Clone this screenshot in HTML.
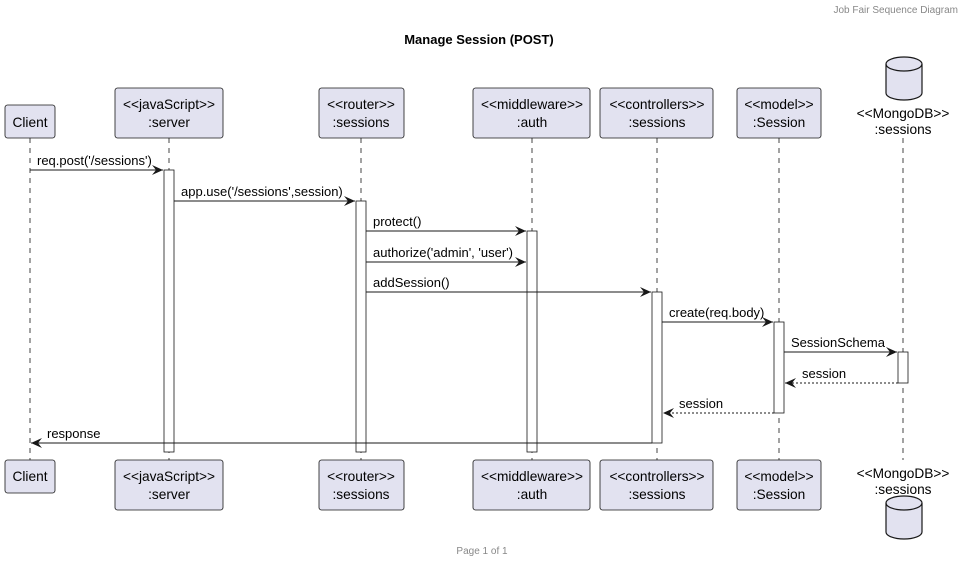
<!DOCTYPE html>
<html><head><meta charset="utf-8"><style>
html,body{margin:0;padding:0;background:#fff;}
svg{display:block;font-family:"Liberation Sans",sans-serif;}
</style></head><body>
<svg width="964" height="562" viewBox="0 0 964 562" xmlns="http://www.w3.org/2000/svg">
<defs>
<marker id="a" markerWidth="12" markerHeight="10" refX="11" refY="5" orient="auto" markerUnits="userSpaceOnUse"><path d="M0,0 L11,5 L0,10 L4,5 Z" fill="#181818"/></marker>
<marker id="o" markerWidth="12" markerHeight="10" refX="11" refY="5" orient="auto" markerUnits="userSpaceOnUse"><path d="M0,0 L11,5 L0,10 L4,5 Z" fill="#181818"/></marker>
</defs>
<text x="958" y="13" font-size="10" fill="#888" text-anchor="end">Job Fair Sequence Diagram</text>
<text x="479" y="44" font-size="13" font-weight="bold" text-anchor="middle" fill="#000">Manage Session (POST)</text>
<text x="482" y="554" font-size="10" fill="#888" text-anchor="middle">Page 1 of 1</text>
<g stroke="#181818" stroke-width="0.8" stroke-dasharray="5,5">
<line x1="30" y1="138" x2="30" y2="460"/>
<line x1="169" y1="138" x2="169" y2="460"/>
<line x1="361" y1="138" x2="361" y2="460"/>
<line x1="532" y1="138" x2="532" y2="460"/>
<line x1="657" y1="138" x2="657" y2="460"/>
<line x1="779" y1="138" x2="779" y2="460"/>
<line x1="903" y1="138" x2="903" y2="460"/>
</g>
<g fill="#e2e2f0" stroke="#181818" stroke-width="0.8">
<rect x="5" y="105" width="50" height="33" rx="2.5"/>
<rect x="115" y="88" width="108" height="50" rx="2.5"/>
<rect x="319" y="88" width="85" height="50" rx="2.5"/>
<rect x="473" y="88" width="117" height="50" rx="2.5"/>
<rect x="600" y="88" width="113" height="50" rx="2.5"/>
<rect x="737" y="88" width="84" height="50" rx="2.5"/>
<rect x="5" y="460" width="50" height="33" rx="2.5"/>
<rect x="115" y="460" width="108" height="50" rx="2.5"/>
<rect x="319" y="460" width="85" height="50" rx="2.5"/>
<rect x="473" y="460" width="117" height="50" rx="2.5"/>
<rect x="600" y="460" width="113" height="50" rx="2.5"/>
<rect x="737" y="460" width="84" height="50" rx="2.5"/>
<path d="M886,64 a18,7 0 0 1 36,0 v29 a18,7 0 0 1 -36,0 Z" stroke-width="1.2"/>
<path d="M886,64 a18,7 0 0 0 36,0" fill="none" stroke-width="1.2"/>
<path d="M886,503 a18,7 0 0 1 36,0 v29 a18,7 0 0 1 -36,0 Z" stroke-width="1.2"/>
<path d="M886,503 a18,7 0 0 0 36,0" fill="none" stroke-width="1.2"/>
</g>
<g fill="#fff" stroke="#181818" stroke-width="0.8">
<rect x="164" y="170" width="10" height="282"/>
<rect x="356" y="201" width="10" height="251"/>
<rect x="527" y="231" width="10" height="221"/>
<rect x="652" y="292" width="10" height="151"/>
<rect x="774" y="322" width="10" height="91"/>
<rect x="898" y="352" width="10" height="31"/>
</g>
<g font-size="13.7" fill="#000" text-anchor="middle">
<text x="30" y="127">Client</text>
<text x="169" y="109">&lt;&lt;javaScript&gt;&gt;</text><text x="169" y="127">:server</text>
<text x="361" y="109">&lt;&lt;router&gt;&gt;</text><text x="361" y="127">:sessions</text>
<text x="532" y="109">&lt;&lt;middleware&gt;&gt;</text><text x="532" y="127">:auth</text>
<text x="657" y="109">&lt;&lt;controllers&gt;&gt;</text><text x="657" y="127">:sessions</text>
<text x="779" y="109">&lt;&lt;model&gt;&gt;</text><text x="779" y="127">:Session</text>
<text x="903" y="118">&lt;&lt;MongoDB&gt;&gt;</text><text x="903" y="134">:sessions</text>
<text x="30" y="481">Client</text>
<text x="169" y="481">&lt;&lt;javaScript&gt;&gt;</text><text x="169" y="499">:server</text>
<text x="361" y="481">&lt;&lt;router&gt;&gt;</text><text x="361" y="499">:sessions</text>
<text x="532" y="481">&lt;&lt;middleware&gt;&gt;</text><text x="532" y="499">:auth</text>
<text x="657" y="481">&lt;&lt;controllers&gt;&gt;</text><text x="657" y="499">:sessions</text>
<text x="779" y="481">&lt;&lt;model&gt;&gt;</text><text x="779" y="499">:Session</text>
<text x="903" y="478">&lt;&lt;MongoDB&gt;&gt;</text><text x="903" y="494">:sessions</text>
</g>
<g stroke="#181818" stroke-width="1">
<line x1="30" y1="170" x2="163" y2="170" marker-end="url(#a)"/>
<line x1="174" y1="201" x2="355" y2="201" marker-end="url(#a)"/>
<line x1="366" y1="231" x2="526" y2="231" marker-end="url(#a)"/>
<line x1="366" y1="262" x2="526" y2="262" marker-end="url(#a)"/>
<line x1="366" y1="292" x2="651" y2="292" marker-end="url(#a)"/>
<line x1="662" y1="322" x2="773" y2="322" marker-end="url(#a)"/>
<line x1="784" y1="352" x2="897" y2="352" marker-end="url(#a)"/>
<line x1="898" y1="383" x2="785" y2="383" stroke-dasharray="2,2" marker-end="url(#o)"/>
<line x1="774" y1="413" x2="663" y2="413" stroke-dasharray="2,2" marker-end="url(#o)"/>
<line x1="652" y1="443" x2="31" y2="443" marker-end="url(#o)"/>
</g>
<g font-size="13" fill="#000">
<text x="37" y="165">req.post('/sessions')</text>
<text x="181" y="196">app.use('/sessions',session)</text>
<text x="373" y="226">protect()</text>
<text x="373" y="257">authorize('admin', 'user')</text>
<text x="373" y="287">addSession()</text>
<text x="669" y="317">create(req.body)</text>
<text x="791" y="347">SessionSchema</text>
<text x="802" y="378">session</text>
<text x="679" y="408">session</text>
<text x="47" y="438">response</text>
</g>
</svg>
</body></html>
